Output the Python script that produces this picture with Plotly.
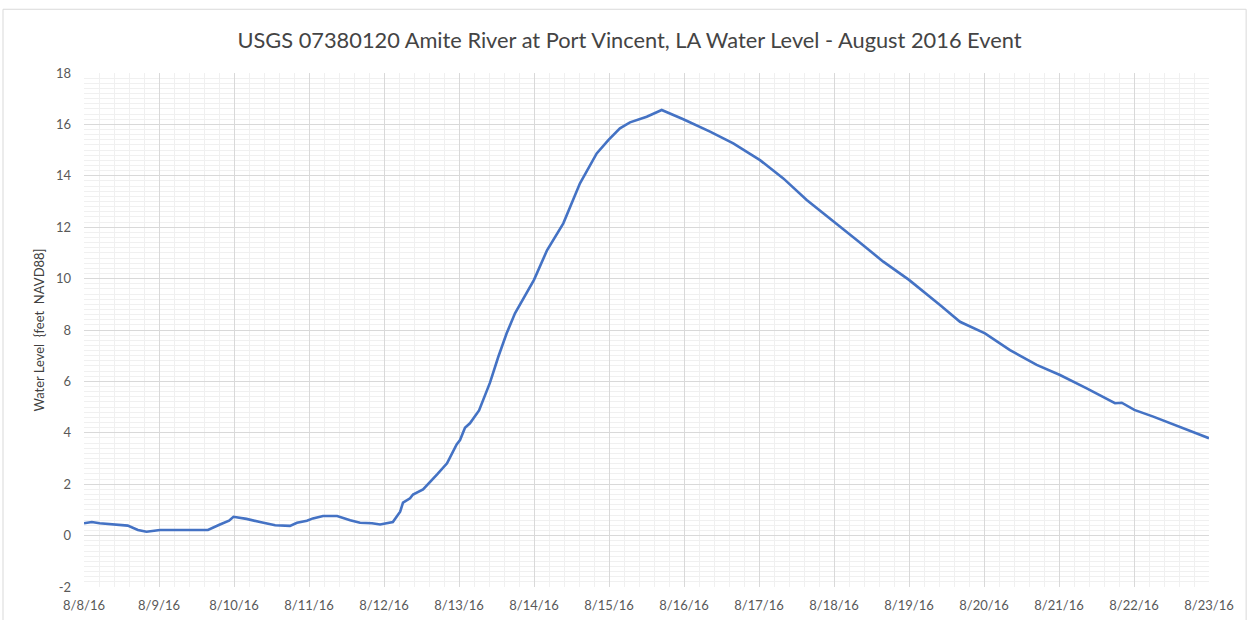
import plotly.graph_objects as go

# Gauge readings: timestamp and stage (feet, NAVD88)
times = [
    "2016-08-08 00:00", "2016-08-08 02:30", "2016-08-08 05:00", "2016-08-08 10:30",
    "2016-08-08 14:00", "2016-08-08 17:15", "2016-08-08 20:00", "2016-08-09 00:20",
    "2016-08-09 13:00", "2016-08-09 15:40", "2016-08-09 19:30", "2016-08-09 22:25",
    "2016-08-09 23:50", "2016-08-10 04:00", "2016-08-10 08:20", "2016-08-10 13:10",
    "2016-08-10 17:55", "2016-08-10 20:10", "2016-08-10 23:20", "2016-08-11 01:15",
    "2016-08-11 04:30", "2016-08-11 09:00", "2016-08-11 13:10", "2016-08-11 16:20",
    "2016-08-11 20:10", "2016-08-11 22:45", "2016-08-12 02:50", "2016-08-12 05:10",
    "2016-08-12 06:05", "2016-08-12 08:20", "2016-08-12 09:17", "2016-08-12 12:30",
    "2016-08-12 17:00", "2016-08-12 20:10", "2016-08-12 23:15", "2016-08-13 00:20",
    "2016-08-13 01:55", "2016-08-13 03:30", "2016-08-13 06:25", "2016-08-13 09:55",
    "2016-08-13 12:35", "2016-08-13 15:15", "2016-08-13 17:55", "2016-08-13 20:35",
    "2016-08-13 22:43", "2016-08-14 00:00", "2016-08-14 04:10", "2016-08-14 09:23",
    "2016-08-14 14:43", "2016-08-14 20:04", "2016-08-14 23:47", "2016-08-15 03:30",
    "2016-08-15 06:43", "2016-08-15 12:04", "2016-08-15 16:52", "2016-08-15 23:47",
    "2016-08-16 08:20", "2016-08-16 15:46", "2016-08-17 00:19", "2016-08-17 07:47",
    "2016-08-17 15:16", "2016-08-18 00:06", "2016-08-18 07:16", "2016-08-18 15:46",
    "2016-08-19 00:00", "2016-08-19 09:55", "2016-08-19 16:19", "2016-08-20 00:19",
    "2016-08-20 08:19", "2016-08-20 16:52", "2016-08-21 00:19", "2016-08-21 08:52",
    "2016-08-21 17:55", "2016-08-21 20:04", "2016-08-22 00:06", "2016-08-22 06:10",
    "2016-08-22 14:43", "2016-08-23 00:00",
]
water_level = [
    0.48, 0.53, 0.48, 0.44,
    0.39, 0.22, 0.15, 0.22,
    0.22, 0.22, 0.43, 0.58,
    0.73, 0.65, 0.53, 0.40,
    0.38, 0.50, 0.58, 0.67,
    0.76, 0.76, 0.60, 0.50,
    0.48, 0.43, 0.53, 0.93,
    1.28, 1.45, 1.60, 1.80,
    2.38, 2.81, 3.55, 3.72,
    4.20, 4.37, 4.87, 5.95,
    6.96, 7.87, 8.65, 9.23,
    9.69, 9.95, 11.10, 12.15,
    13.71, 14.87, 15.39, 15.85,
    16.08, 16.30, 16.56, 16.20,
    15.72, 15.26, 14.61, 13.90,
    13.06, 12.21, 11.50, 10.66,
    9.95, 8.97, 8.32, 7.87,
    7.22, 6.64, 6.25, 5.73,
    5.15, 5.17, 4.89, 4.63,
    4.24, 3.79,
]

x_ticks = ["2016-08-%02d" % d for d in range(8, 24)]
x_tick_labels = ["8/%d/16" % d for d in range(8, 24)]
y_ticks = list(range(-2, 19, 2))
y_tick_labels = [str(v) for v in y_ticks]

title_text = "USGS 07380120 Amite River at Port Vincent, LA Water Level - August 2016 Event"
y_title = "Water Level  {feet  NAVD88]"

font_family = "Lato, 'Open Sans', sans-serif"
tick_color = "#595959"

fig = go.Figure()
fig.add_trace(go.Scatter(
    x=times, y=water_level, mode="lines",
    line=dict(color="#4472C4", width=2.6),
    hoverinfo="x+y", showlegend=False,
))

fig.update_layout(
    width=1249, height=620,
    margin=dict(l=84, r=40, t=73, b=33),
    paper_bgcolor="white", plot_bgcolor="white",
    title=dict(text=title_text, x=0.504, xanchor="center", y=0.935, yanchor="middle",
               font=dict(family=font_family, size=21.8, color="#444444")),
    font=dict(family=font_family, color=tick_color),
    xaxis=dict(
        type="date", automargin=False,
        range=["2016-08-08", "2016-08-23"],
        tickmode="array", tickvals=x_ticks, ticktext=x_tick_labels,
        tickfont=dict(size=13, color=tick_color),
        ticklabelstandoff=9,
        showgrid=True, gridcolor="#d9d9d9", gridwidth=1,
        minor=dict(dtick=17280000, tick0="2016-08-08", showgrid=True,
                   gridcolor="#f0f0f0", gridwidth=1),
        showline=False, zeroline=False, ticks="",
    ),
    yaxis=dict(
        range=[-2, 18], automargin=False,
        tickmode="array", tickvals=y_ticks, ticktext=y_tick_labels,
        tickfont=dict(size=13, color=tick_color),
        ticklabelstandoff=12,
        showgrid=True, gridcolor="#d9d9d9", gridwidth=1,
        minor=dict(dtick=0.2, tick0=0, showgrid=True,
                   gridcolor="#f0f0f0", gridwidth=1),
        showline=False, zeroline=False, ticks="", ticklen=0,
        title=dict(text=y_title, font=dict(size=13, color="#404040"), standoff=8),
    ),
    shapes=[dict(type="rect", xref="paper", yref="paper",
                 x0=-0.072, x1=1.033, y0=-0.2, y1=1.124,
                 line=dict(color="#d9d9d9", width=1), fillcolor="rgba(0,0,0,0)",
                 layer="below")],
)

fig.write_html("out.html")
